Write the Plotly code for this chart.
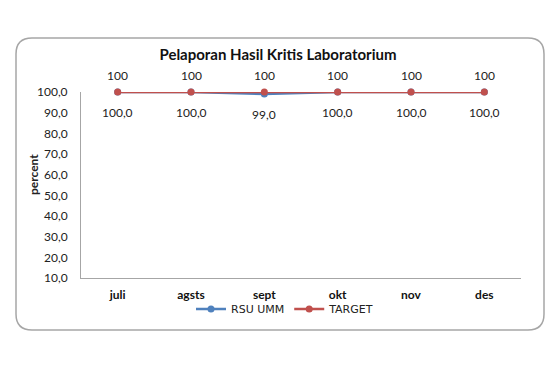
import plotly.graph_objects as go

months = ["juli", "agsts", "sept", "okt", "nov", "des"]
rsu_umm = [100.0, 100.0, 99.0, 100.0, 100.0, 100.0]
target = [100, 100, 100, 100, 100, 100]
y_ticks = [10, 20, 30, 40, 50, 60, 70, 80, 90, 100]

BLUE = "#4F81BD"
RED = "#C0504D"
FONT = "Lato, Carlito, 'Open Sans', sans-serif"

# page has an 8px body margin; work in screenshot coords and shift
OFF = 8
W, H = 560 - OFF, 370 - OFF
L, R, T, B = 81 - OFF, 521 - OFF, 92 - OFF, 278 - OFF

fig = go.Figure()
fig.add_trace(go.Scatter(
    x=months, y=rsu_umm, name="RSU UMM", mode="lines+markers",
    line=dict(color=BLUE, width=2.5), marker=dict(size=7, color=BLUE),
    cliponaxis=False,
))
fig.add_trace(go.Scatter(
    x=months, y=target, name="TARGET", mode="lines+markers",
    line=dict(color=RED, width=2.5), marker=dict(size=7, color=RED),
    cliponaxis=False,
))

# data labels
for m, v in zip(months, rsu_umm):
    fig.add_annotation(x=m, y=v, text=f"{v:.1f}".replace(".", ","), showarrow=False,
                       yshift=-20, font=dict(size=12, color="#222222", family=FONT))
for m, v in zip(months, target):
    fig.add_annotation(x=m, y=v, text=str(v), showarrow=False,
                       yshift=17, font=dict(size=12, color="#222222", family=FONT))

def px(x):
    return (x - OFF - L) / (R - L)

def py(y):
    return (B - (y - OFF)) / (B - T)

# y-axis title
fig.add_annotation(xref="paper", yref="paper", x=px(33), y=py(175), text="<b>percent</b>",
                   textangle=-90, showarrow=False, xanchor="center", yanchor="middle",
                   font=dict(size=12, color="#222222", family=FONT))

# rounded frame (screenshot coords)
x0, x1, y0, y1, r = 16, 544, 38, 330, 16
pts = [
    f"M {px(x0 + r)},{py(y0)}",
    f"L {px(x1 - r)},{py(y0)}",
    f"Q {px(x1)},{py(y0)} {px(x1)},{py(y0 + r)}",
    f"L {px(x1)},{py(y1 - r)}",
    f"Q {px(x1)},{py(y1)} {px(x1 - r)},{py(y1)}",
    f"L {px(x0 + r)},{py(y1)}",
    f"Q {px(x0)},{py(y1)} {px(x0)},{py(y1 - r)}",
    f"L {px(x0)},{py(y0 + r)}",
    f"Q {px(x0)},{py(y0)} {px(x0 + r)},{py(y0)}",
    "Z",
]
fig.add_shape(type="path", xref="paper", yref="paper", path=" ".join(pts),
              line=dict(color="#A6A6A6", width=1.5), fillcolor="rgba(0,0,0,0)", layer="below")

fig.update_layout(
    width=W, height=H,
    margin=dict(l=L, r=W - R, t=T, b=H - B, autoexpand=False),
    paper_bgcolor="white", plot_bgcolor="white",
    separators=",.",
    font=dict(family=FONT, size=12, color="#222222"),
    title=dict(text="<b>Pelaporan Hasil Kritis Laboratorium</b>", xref="container",
               x=(278 - OFF) / W, xanchor="center",
               y=1 - (55 - OFF) / H, yanchor="middle", font=dict(size=15, color="#111111", family=FONT)),
    showlegend=True,
    legend=dict(orientation="h", x=px(285), xanchor="center", y=py(309), yanchor="middle",
                font=dict(size=11, family="'DejaVu Sans', Arial, sans-serif", color="#222222"),
                itemwidth=30, bgcolor="rgba(0,0,0,0)", tracegroupgap=0),
    xaxis=dict(range=[-0.5, len(months) - 0.5], showline=True, linecolor="#A6A6A6",
               linewidth=1, showgrid=False,
               ticks="", tickfont=dict(size=12, color="#111111", family=FONT),
               ticklabelstandoff=6, tickprefix="<b>", ticksuffix="</b>", automargin=False),
    yaxis=dict(range=[10, 100], tickvals=y_ticks, tickformat=".1f", showline=True,
               linecolor="#A6A6A6", linewidth=1, showgrid=False, zeroline=False,
               ticks="", ticklabelstandoff=10, automargin=False,
               tickfont=dict(size=12, color="#222222", family=FONT)),
)

fig.write_html("out.html")
